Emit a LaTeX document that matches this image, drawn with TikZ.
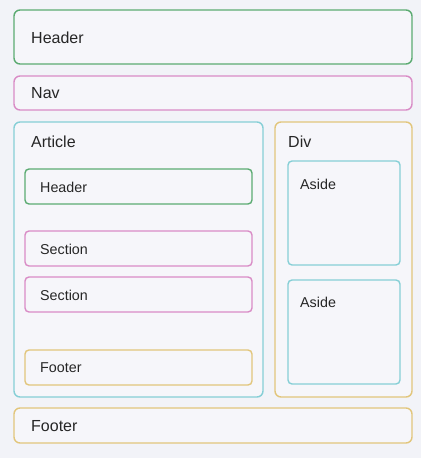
\documentclass[tikz,border=0pt]{standalone}
\usepackage{fontspec}
\setmainfont{Liberation Sans}
\definecolor{bgpage}{HTML}{F2F3F8}
\definecolor{boxfill}{HTML}{F6F6FA}
\definecolor{hdrgreen}{HTML}{5CAB72}
\definecolor{navpink}{HTML}{D98CC6}
\definecolor{artcyan}{HTML}{86CFD6}
\definecolor{ftryellow}{HTML}{E2C67C}
\tikzset{
  outerbox/.style={rounded corners=6pt, line width=1.4pt, fill=boxfill},
  innerbox/.style={rounded corners=4pt, line width=1.4pt, fill=boxfill},
  biglabel/.style={anchor=west, inner sep=0pt, font=\fontsize{16}{19}\selectfont, text=black!85},
  smalllabel/.style={anchor=west, inner sep=0pt, font=\fontsize{14.3}{17}\selectfont, text=black!85}
}
\begin{document}
\begin{tikzpicture}[x=1pt, y=-1pt]
  \useasboundingbox (0,0) rectangle (421,458);
  \fill[bgpage] (0,0) rectangle (421,458);

  % Top bars
  \draw[outerbox, draw=hdrgreen] (14,10) rectangle (412,64);
  \node[biglabel] (hdrtext) at (31,38) {Header};
  \draw[outerbox, draw=navpink] (14,76) rectangle (412,110);
  \node[biglabel] (navtext) at (31,93) {Nav};

  % Article column
  \draw[outerbox, draw=artcyan] (14,122) rectangle (263,397);
  \node[biglabel] (arttext) at (31,142) {Article};
  \draw[innerbox, draw=hdrgreen] (25,169) rectangle (252,204);
  \node[smalllabel] (arthdr) at (40,187) {Header};
  \draw[innerbox, draw=navpink] (25,231) rectangle (252,266);
  \node[smalllabel] (artsecA) at (40,249) {Section};
  \draw[innerbox, draw=navpink] (25,277) rectangle (252,312);
  \node[smalllabel] (artsecB) at (40,295) {Section};
  \draw[innerbox, draw=ftryellow] (25,350) rectangle (252,385);
  \node[smalllabel] (artftr) at (40,368) {Footer};

  % Div column
  \draw[outerbox, draw=ftryellow] (275,122) rectangle (412,397);
  \node[biglabel] (divtext) at (288,142) {Div};
  \draw[innerbox, draw=artcyan] (288,161) rectangle (400,265);
  \node[smalllabel] (asideA) at (300,184) {Aside};
  \draw[innerbox, draw=artcyan] (288,280) rectangle (400,384);
  \node[smalllabel] (asideB) at (300,302) {Aside};

  % Bottom bar
  \draw[outerbox, draw=ftryellow] (14,408) rectangle (412,443);
  \node[biglabel] (ftrtext) at (31,426) {Footer};
\end{tikzpicture}
\end{document}
